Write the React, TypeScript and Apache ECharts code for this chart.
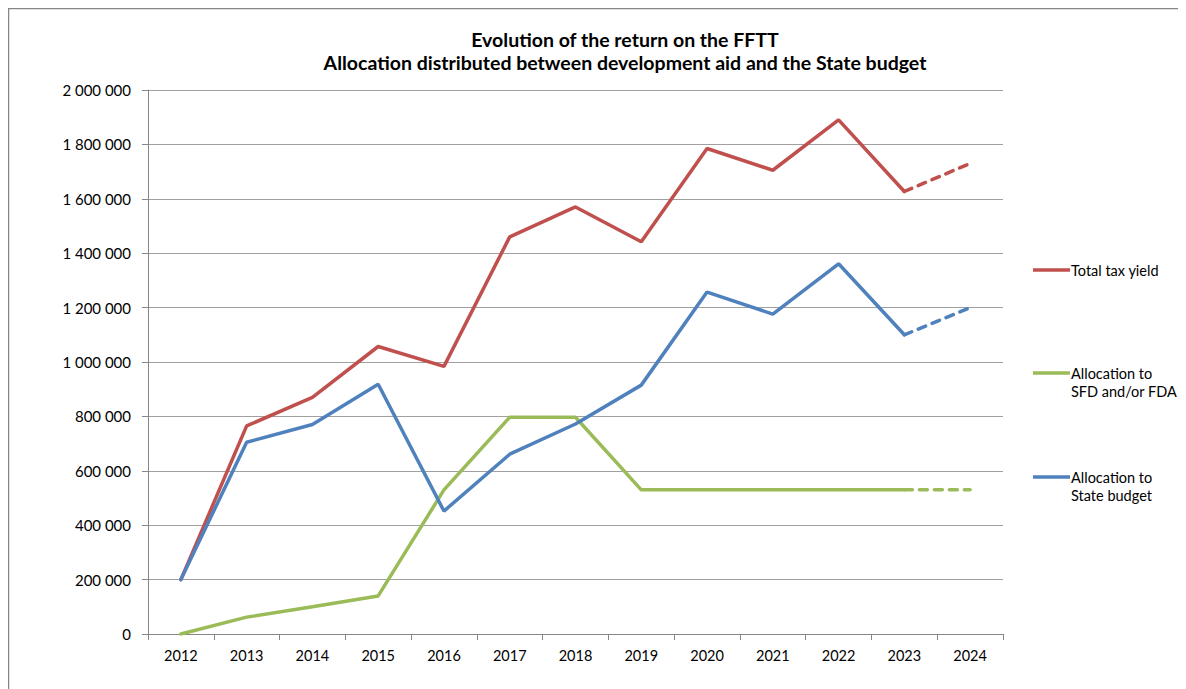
import React, { useEffect, useRef } from "react";
import * as echarts from "echarts";

const years = ["2012", "2013", "2014", "2015", "2016", "2017", "2018", "2019", "2020", "2021", "2022", "2023", "2024"];
const totalTax = [200000, 765000, 870000, 1057000, 984000, 1460000, 1570000, 1442000, 1785000, 1705000, 1890000, 1627000, 1730000];
const sfdFda = [0, 62000, 100000, 140000, 530000, 797000, 797000, 530000, 530000, 530000, 530000, 530000, 530000];
const stateBudget = [200000, 705000, 770000, 918000, 452000, 661000, 772000, 915000, 1257000, 1176000, 1361000, 1100000, 1200000];
const projectedFrom = 11; // 2023 onward dashed

const RED = "#C0504D";
const GREEN = "#9BBB59";
const BLUE = "#4F81BD";
const FONT = "Lato, 'Open Sans', sans-serif";

function solidPart(arr: number[]) {
  return arr.map((v, i) => (i <= projectedFrom ? v : null));
}
function dashedPart(arr: number[]) {
  return arr.map((v, i) => (i >= projectedFrom ? v : null));
}
function fmt(v: number) {
  return String(v).replace(/\B(?=(\d{3})+(?!\d))/g, " ");
}

export default function App() {
  const ref = useRef<HTMLDivElement>(null);
  useEffect(() => {
    if (!ref.current) return;
    const chart = echarts.init(ref.current, null, { renderer: "svg" });
    const lineSeries = (name: string, data: (number | null)[], color: string, dashed: boolean) => ({
      type: "line",
      name,
      data,
      symbol: "none",
      lineStyle: { color, width: 3.5, type: dashed ? [8, 7] : "solid", cap: "round" },
      itemStyle: { color },
      silent: true,
    });
    const legendItem = (y: number, color: string, lines: string[]) => ({
      type: "group",
      children: [
        { type: "line", shape: { x1: 1025, y1: y, x2: 1062, y2: y }, style: { stroke: color, lineWidth: 3.5 } },
        {
          type: "text",
          x: 1063,
          y: y - 9,
          style: { text: lines.join("\n"), font: `14.5px ${FONT}`, fill: "#000", lineHeight: 18 },
        },
      ],
    });
    chart.setOption({
      animation: false,
      backgroundColor: "#fff",
      title: {
        text: "Evolution of the return on the FFTT\nAllocation distributed between development aid and the State budget",
        left: 612,
        top: 15,
        textAlign: "center",
        textStyle: { fontFamily: FONT, fontSize: 19.5, fontWeight: "bold", color: "#000", lineHeight: 23 },
      },
      grid: { left: 140, top: 82, width: 855, height: 544, containLabel: false },
      xAxis: {
        type: "category",
        data: years,
        boundaryGap: true,
        axisLine: { lineStyle: { color: "#868686", width: 1 } },
        axisTick: { show: true, length: 6, lineStyle: { color: "#868686" } },
        axisLabel: { fontFamily: FONT, fontSize: 14.5, color: "#000", margin: 14 },
      },
      yAxis: {
        type: "value",
        min: 0,
        max: 2000000,
        interval: 200000,
        axisLine: { show: true, lineStyle: { color: "#868686", width: 1 } },
        axisTick: { show: true, length: 6, lineStyle: { color: "#868686" } },
        splitLine: { lineStyle: { color: "#a0a0a0", width: 1 } },
        axisLabel: { fontFamily: FONT, fontSize: 15, color: "#000", margin: 17, formatter: (v: number) => fmt(v) },
      },
      series: [
        lineSeries("Total tax yield", solidPart(totalTax), RED, false),
        lineSeries("Total tax yield (projection)", dashedPart(totalTax), RED, true),
        lineSeries("Allocation to SFD and/or FDA", solidPart(sfdFda), GREEN, false),
        lineSeries("Allocation to SFD and/or FDA (projection)", dashedPart(sfdFda), GREEN, true),
        lineSeries("Allocation to State budget", solidPart(stateBudget), BLUE, false),
        lineSeries("Allocation to State budget (projection)", dashedPart(stateBudget), BLUE, true),
      ],
      graphic: [
        { type: "line", shape: { x1: 0, y1: 0.5, x2: 1178, y2: 0.5 }, style: { stroke: "#868686", lineWidth: 1.5 } },
        { type: "line", shape: { x1: 0.5, y1: 0, x2: 0.5, y2: 681 }, style: { stroke: "#868686", lineWidth: 1.5 } },
        legendItem(262, RED, ["Total tax yield"]),
        legendItem(365, GREEN, ["Allocation to", "SFD and/or FDA"]),
        legendItem(469, BLUE, ["Allocation to", "State budget"]),
      ],
    });
    return () => chart.dispose();
  }, []);
  return <div ref={ref} style={{ width: 1178, height: 681 }} />;
}
